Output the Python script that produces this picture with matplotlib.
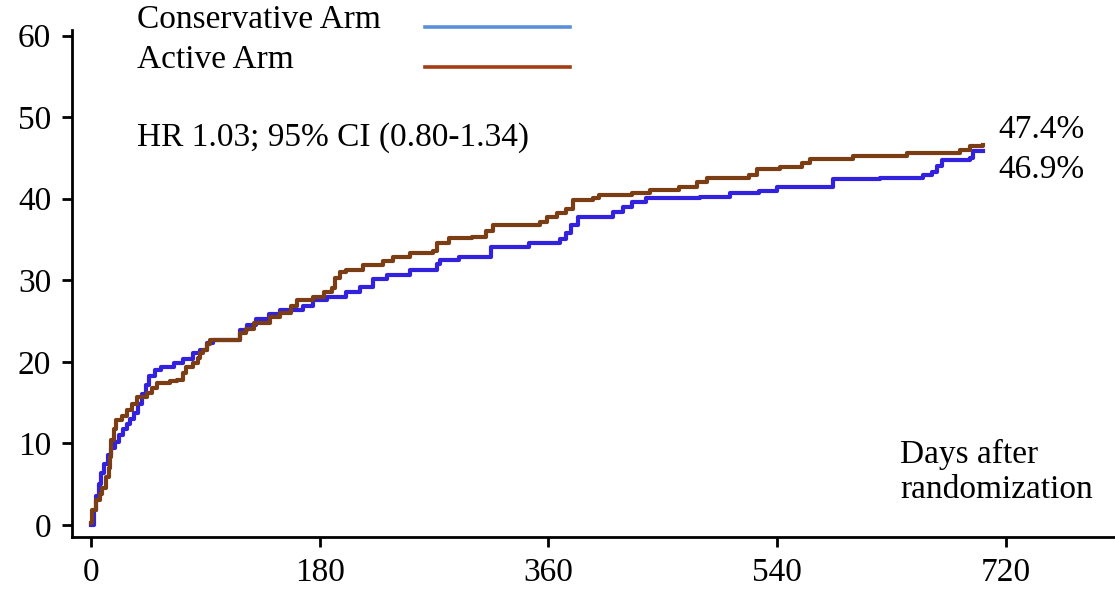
import matplotlib
matplotlib.use("Agg")
import matplotlib.pyplot as plt
from matplotlib.lines import Line2D

# Conservative arm (cumulative %, step curve)
cons_days = [0, 2, 4, 6, 8, 10, 13, 16, 19, 22, 25, 28, 31, 34, 37, 40, 43, 46, 50, 55, 65, 72, 80, 86, 91, 96,
             117, 123, 130, 140, 149, 167, 175, 186, 201, 212, 222, 233, 251, 272, 275, 290, 315, 345, 369, 374,
             378, 383, 411, 419, 426, 437, 479, 503, 526, 540, 584, 621, 655, 662, 666, 670, 692, 694, 702]
cons_pct = [0.0, 1.8, 3.5, 5.0, 6.4, 7.5, 8.6, 9.4, 10.2, 11.0, 11.7, 12.4, 13.0, 13.7, 14.8, 16.0, 17.2, 18.2, 19.0,
            19.4, 19.9, 20.3, 21.1, 21.5, 22.3, 22.7, 23.9, 24.5, 25.2, 25.8, 26.4, 26.8, 27.6, 28.0, 28.6, 29.2,
            30.1, 30.7, 31.3, 32.0, 32.5, 32.9, 34.1, 34.6, 35.0, 35.8, 36.8, 37.7, 38.4, 39.0, 39.6, 40.1, 40.2,
            40.7, 40.9, 41.5, 42.4, 42.6, 42.9, 43.3, 44.0, 44.8, 45.0, 45.8, 45.8]

# Active arm
act_days = [0, 1, 4, 7, 9, 12, 14, 15, 16, 18, 20, 24, 28, 32, 36, 44, 48, 52, 62, 68, 72, 75, 80, 84, 86, 88, 91, 94,
            117, 122, 128, 141, 149, 157, 162, 175, 183, 190, 192, 196, 201, 214, 230, 238, 251, 269, 272, 282, 300,
            311, 316, 353, 359, 367, 374, 379, 395, 400, 426, 440, 463, 477, 485, 518, 524, 542, 560, 566, 600, 642,
            684, 692, 702]
act_pct = [0.2, 1.8, 3.0, 3.8, 4.5, 5.8, 7.0, 8.3, 10.4, 11.8, 12.9, 13.4, 14.1, 14.8, 15.7, 16.2, 16.8, 17.4, 17.6,
           17.8, 18.6, 19.4, 19.9, 20.5, 21.1, 21.5, 22.2, 22.7, 23.5, 24.0, 24.8, 25.5, 26.0, 26.8, 27.6, 28.0, 28.5,
           29.1, 30.3, 31.0, 31.3, 31.9, 32.3, 32.8, 33.4, 33.6, 34.6, 35.2, 35.3, 36.0, 36.8, 37.2, 37.7, 38.3, 38.7,
           39.9, 40.1, 40.5, 40.7, 41.1, 41.5, 42.0, 42.6, 42.9, 43.6, 43.9, 44.4, 44.9, 45.2, 45.6, 46.0, 46.5, 46.6]

x_ticks = [0, 180, 360, 540, 720]
y_ticks = [0, 10, 20, 30, 40, 50, 60]

series_names = ["Conservative Arm", "Active Arm"]
hr_text = "HR 1.03; 95% CI (0.80-1.34)"
end_labels = ["47.4%", "46.9%"]
xlabel_text = "Days after\nrandomization"

FONT = "Liberation Serif"
FS = 24
plt.rcParams["font.family"] = [FONT, "DejaVu Serif"]

W, H = 1115, 591
fig = plt.figure(figsize=(W / 100, H / 100), dpi=100)
ax = fig.add_axes([72 / W, 1 - 537 / H, 1 - 72 / W, (537 - 30) / H])

cons_color = "#3322dd"
act_color = "#7a3d14"
ax.step(cons_days, cons_pct, where="post", color=cons_color, lw=3.0, zorder=2)
ax.step(act_days, act_pct, where="post", color=act_color, lw=3.0, zorder=3)

ax.set_xlim(-15, 806)
ax.set_ylim(-1.5, 60.7)
ax.set_xticks(x_ticks)
ax.set_yticks(y_ticks)
ax.spines["top"].set_visible(False)
ax.spines["right"].set_visible(False)
for s in ["left", "bottom"]:
    ax.spines[s].set_linewidth(2)
ax.tick_params(axis="x", length=7, width=2, pad=8, labelsize=FS)
ax.tick_params(axis="y", length=7, width=2, pad=8, labelsize=FS)

def fx(px):
    return px / W

def fy(py):
    return 1 - py / H

fig.text(fx(137), fy(20), series_names[0], fontsize=FS, va="center", ha="left")
fig.text(fx(137), fy(60), series_names[1], fontsize=FS, va="center", ha="left")
fig.add_artist(Line2D([fx(425), fx(570)], [fy(27), fy(27)], color="#5b8fd9", lw=2.6))
fig.add_artist(Line2D([fx(425), fx(570)], [fy(67), fy(67)], color="#a23c12", lw=2.6))

fig.text(fx(137), fy(138), hr_text, fontsize=FS, va="center", ha="left")
fig.text(fx(998), fy(130), end_labels[0], fontsize=FS, va="center", ha="left")
fig.text(fx(998), fy(170), end_labels[1], fontsize=FS, va="center", ha="left")
fig.text(fx(900), fy(472), xlabel_text, fontsize=FS, va="center", ha="left", linespacing=1.2)

fig.savefig("out.png", dpi=100)
